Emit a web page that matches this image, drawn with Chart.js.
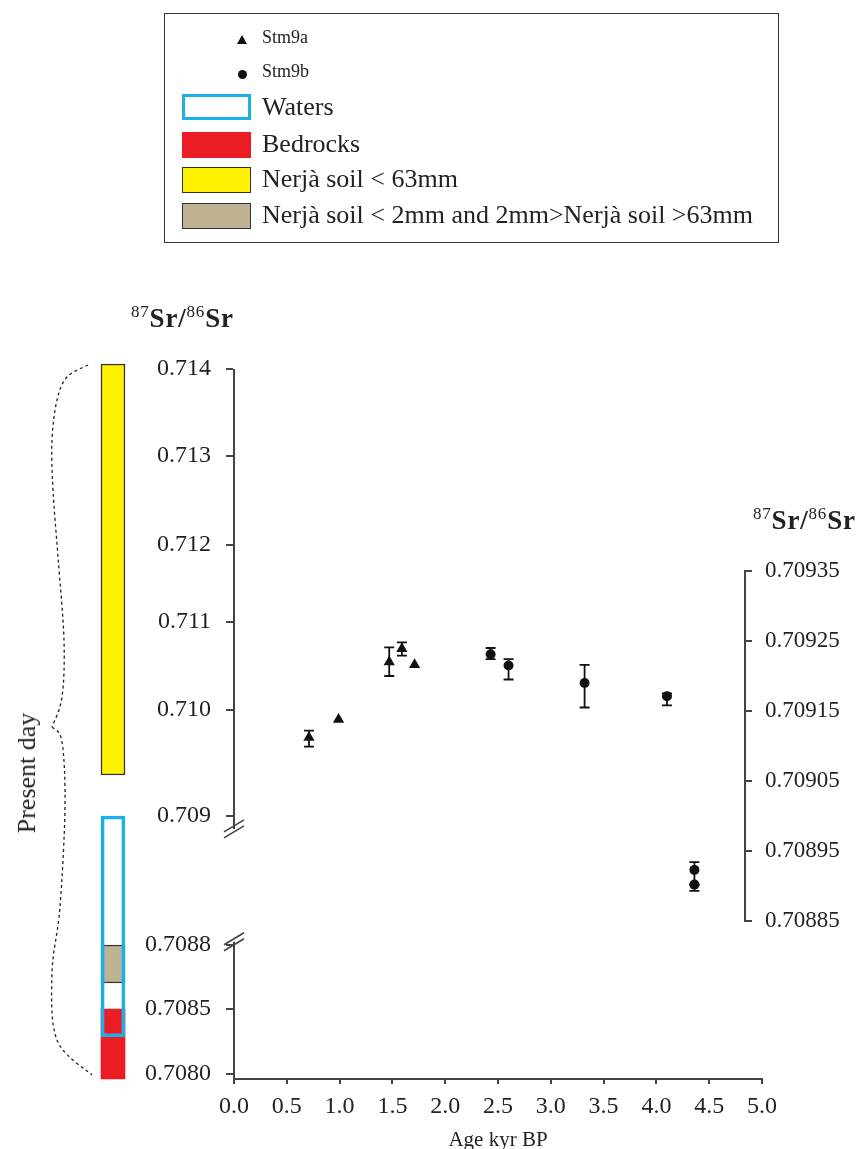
<!DOCTYPE html>
<html>
<head>
<meta charset="utf-8">
<title>87Sr/86Sr vs age</title>
<script src="https://cdn.jsdelivr.net/npm/chart.js"></script>
<style>
    body { margin: 0; background: #fff; overflow: hidden; font-family: "Liberation Serif", "Times New Roman", serif; color: #222; }
    #wrap { position: relative; width: 862px; height: 1149px; overflow: hidden; }
    canvas { position: absolute; left: 0; top: 0; }
    #legend { position: absolute; left: 164px; top: 13px; width: 615px; height: 230px; border: 1.5px solid #333; box-sizing: border-box; }
    .sw { position: absolute; left: 17px; width: 69px; height: 26px; box-sizing: border-box; }
    .lbl { position: absolute; left: 97px; font-size: 26px; line-height: 26px; white-space: nowrap; }
    .small { font-size: 18px; line-height: 18px; }
    .tri { position: absolute; width: 0; height: 0; border-left: 5px solid transparent; border-right: 5px solid transparent; border-bottom: 9px solid #111; }
    .dot { position: absolute; width: 9px; height: 9px; border-radius: 50%; background: #111; }
    .ttl { position: absolute; font-size: 27px; font-weight: bold; line-height: 1; white-space: nowrap; letter-spacing: 0.8px; }
    .ttl .sup { font-size: 17px; font-weight: normal; position: relative; top: -10px; }
    #present { position: absolute; left: 27px; top: 773px; font-size: 26px; white-space: nowrap; transform: translate(-50%, -50%) rotate(-90deg); }
</style>
</head>
<body>
<div id="wrap">
    <canvas id="mainChart" width="862" height="1156"></canvas>
    <canvas id="pointChart" width="862" height="1156"></canvas>

    <div id="legend">
        <div class="tri" style="left:72px; top:21px;"></div>
        <div class="lbl small" style="left:97px; top:14px;">Stm9a</div>
        <div class="dot" style="left:73px; top:56px;"></div>
        <div class="lbl small" style="left:97px; top:48px;">Stm9b</div>

        <div class="sw" style="top:80px; border:3px solid #1cb0e8;"></div>
        <div class="lbl" style="top:80px;">Waters</div>
        <div class="sw" style="top:118px; background:#ec1c24;"></div>
        <div class="lbl" style="top:117px;">Bedrocks</div>
        <div class="sw" style="top:153px; background:#fff200; border:1.5px solid #333;"></div>
        <div class="lbl" style="top:152px;">Nerjà soil &lt; 63mm</div>
        <div class="sw" style="top:189px; background:#bfb293; border:1.5px solid #333;"></div>
        <div class="lbl" style="top:188px;">Nerjà soil &lt; 2mm and 2mm&gt;Nerjà soil &gt;63mm</div>
    </div>

    <div class="ttl" style="left:131px; top:305px;"><span class="sup">87</span>Sr/<span class="sup">86</span>Sr</div>
    <div class="ttl" style="left:753px; top:507px;"><span class="sup">87</span>Sr/<span class="sup">86</span>Sr</div>
    <div id="present">Present day</div>
</div>

<script>
    // --- data ---
    const xTickLabels = ['0.0', '0.5', '1.0', '1.5', '2.0', '2.5', '3.0', '3.5', '4.0', '4.5', '5.0'];

    const leftTickValues = [0.7080, 0.7085, 0.7088, 0.709, 0.710, 0.711, 0.712, 0.713, 0.714];
    const leftTickLabels = ['0.7080', '0.7085', '0.7088', '0.709', '0.710', '0.711', '0.712', '0.713', '0.714'];

    const rightTickLabels = ['0.70885', '0.70895', '0.70905', '0.70915', '0.70925', '0.70935'];

    // present day ranges (left axis)
    const stripNames = ['Waters', 'Nerjà soil < 2mm and 2mm>Nerjà soil >63mm', 'Bedrocks', 'Nerjà soil < 63mm'];
    const stripLow   = [0.708285, 0.708622, 0.707962, 0.709387];
    const stripHigh  = [0.709000, 0.708800, 0.708499, 0.714057];

    // Stm9a / Stm9b (right axis)
    const stm9aAge = [0.71, 0.99, 1.47, 1.59, 1.71];
    const stm9aSr  = [0.709112, 0.709138, 0.709220, 0.709239, 0.709216];
    const stm9aLo  = [0.709099, null, 0.709200, 0.709229, null];
    const stm9aHi  = [0.709122, null, 0.709241, 0.709248, null];

    const stm9bAge = [2.43, 2.60, 3.32, 4.10, 4.36, 4.36];
    const stm9bSr  = [0.709231, 0.709215, 0.709190, 0.709171, 0.708923, 0.708902];
    const stm9bLo  = [0.709224, 0.709195, 0.709155, 0.709158, 0.708902, 0.708893];
    const stm9bHi  = [0.709240, 0.709224, 0.709216, 0.709175, 0.708934, 0.708902];

    // --- layout ---
    const FONT = "'Liberation Serif', 'Times New Roman', serif";
    const INK = '#222';
    const AXIS = '#444';
    const AREA_TOP = 369, AREA_BOTTOM = 1079, AREA_LEFT = 234, AREA_RIGHT = 762;
    const RIGHT_AXIS_X = 745, RIGHT_TOP = 571, RIGHT_BOTTOM = 921;
    const LEFT_TICK_Y = [1074, 1009, 945, 816, 710, 622, 545, 456, 369];
    const STRIP_X = (113 - AREA_LEFT) / ((AREA_RIGHT - AREA_LEFT) / 5);

    Chart.defaults.font.family = FONT;
    Chart.defaults.color = INK;

    // linear scale with piecewise mapping (hand-drawn tick spacing and an axis break)
    class BrokenScale extends Chart.LinearScale {
        determineDataLimits() {
            const a = this.options.anchors;
            this.min = a[0][0];
            this.max = a[a.length - 1][0];
        }
        buildTicks() {
            return this.options.tickValues.map(v => ({ value: v }));
        }
        _frac(value) {
            const a = this.options.anchors;
            let i = 0;
            while (i < a.length - 2 && value > a[i + 1][0]) i++;
            const v0 = a[i][0], f0 = a[i][1], v1 = a[i + 1][0], f1 = a[i + 1][1];
            return f0 + (value - v0) * (f1 - f0) / (v1 - v0);
        }
        getPixelForValue(value) {
            return this.top + this._frac(value) * (this.bottom - this.top);
        }
        getValueForPixel(pixel) {
            const a = this.options.anchors;
            const f = (pixel - this.top) / (this.bottom - this.top);
            for (let i = 0; i < a.length - 1; i++) {
                if ((f <= a[i][1] && f >= a[i + 1][1]) || i === a.length - 2) {
                    return a[i][0] + (f - a[i][1]) * (a[i + 1][0] - a[i][0]) / (a[i + 1][1] - a[i][1]);
                }
            }
        }
        drawBorder() {
            const ctx = this.ctx;
            const x = this.right;
            ctx.save();
            ctx.lineWidth = 2;
            ctx.strokeStyle = AXIS;
            this.options.borderSegments.forEach(seg => {
                ctx.beginPath();
                ctx.moveTo(x, this.getPixelForValue(seg[0]));
                ctx.lineTo(x, this.getPixelForValue(seg[1]));
                ctx.stroke();
            });
            ctx.lineWidth = 1.6;
            this.options.breakMarks.forEach(v => {
                const y = this.getPixelForValue(v);
                [-3, 3].forEach(d => {
                    ctx.beginPath();
                    ctx.moveTo(x - 10, y + 6 + d);
                    ctx.lineTo(x + 10, y - 6 + d);
                    ctx.stroke();
                });
            });
            ctx.restore();
        }
    }
    BrokenScale.id = 'broken';
    BrokenScale.defaults = Chart.LinearScale.defaults;
    Chart.register(BrokenScale);

    // dashed brace in front of the present day column
    const bracePlugin = {
        id: 'brace',
        afterDraw(chart) {
            const ctx = chart.ctx;
            const upper = [[88, 365], [67, 377], [57, 400], [52, 440], [53, 490], [58, 557], [64, 640], [62, 697], [52, 727]];
            const lower = [[52, 727], [62, 742], [65, 807], [60, 907], [52, 973], [57, 1040], [92, 1075]];
            const curve = pts => {
                ctx.moveTo(pts[0][0], pts[0][1]);
                for (let i = 0; i < pts.length - 1; i++) {
                    const p0 = pts[Math.max(i - 1, 0)], p1 = pts[i], p2 = pts[i + 1], p3 = pts[Math.min(i + 2, pts.length - 1)];
                    ctx.bezierCurveTo(p1[0] + (p2[0] - p0[0]) / 6, p1[1] + (p2[1] - p0[1]) / 6,
                                      p2[0] - (p3[0] - p1[0]) / 6, p2[1] - (p3[1] - p1[1]) / 6, p2[0], p2[1]);
                }
            };
            ctx.save();
            ctx.strokeStyle = '#222';
            ctx.lineWidth = 1.3;
            ctx.setLineDash([3, 3]);
            ctx.beginPath();
            curve(upper);
            curve(lower);
            ctx.stroke();
            ctx.restore();
        }
    };

    const stripColors = ['rgba(0,0,0,0)', '#bfb293', '#ec1c24', '#fff200'];
    const stripBorders = ['#1cb0e8', '#333', '#ec1c24', '#333'];
    const stripBorderWidths = [3, 1.5, 0, 1.5];

    new Chart(document.getElementById('mainChart'), {
        type: 'scatter',
        data: {
            datasets: stripNames.map((name, i) => ({
                type: 'bar',
                label: name,
                data: [{ x: STRIP_X, y: [stripLow[i], stripHigh[i]] }],
                backgroundColor: stripColors[i],
                borderColor: stripBorders[i],
                borderWidth: stripBorderWidths[i],
                borderSkipped: false,
                grouped: false,
                barThickness: 24,
                maxBarThickness: 24,
                clip: false,
                order: i === 0 ? 0 : 1
            }))
        },
        options: {
            responsive: false,
            animation: false,
            devicePixelRatio: 1,
            layout: { padding: { top: AREA_TOP, right: 862 - AREA_RIGHT, left: 0, bottom: 0 } },
            plugins: { legend: { display: false }, tooltip: { enabled: false } },
            scales: {
                x: {
                    type: 'linear',
                    min: 0,
                    max: 5,
                    offset: false,
                    afterFit: s => { s.height = 1156 - AREA_BOTTOM; },
                    ticks: {
                        stepSize: 0.5,
                        autoSkip: false,
                        maxRotation: 0,
                        padding: 8,
                        font: { size: 24 },
                        callback: (v, i) => xTickLabels[i]
                    },
                    grid: { offset: false, drawOnChartArea: false, tickLength: 5, color: AXIS, lineWidth: 2 },
                    border: { color: AXIS, width: 2 },
                    title: { display: true, text: 'Age kyr BP', font: { size: 21 }, padding: { top: 0, bottom: 3 } }
                },
                y: {
                    type: 'broken',
                    position: 'left',
                    anchors: leftTickValues.map((v, i) => [v, (LEFT_TICK_Y[i] - AREA_TOP) / (AREA_BOTTOM - AREA_TOP)]),
                    tickValues: leftTickValues,
                    borderSegments: [[0.70796, 0.708805], [0.70898, 0.714]],
                    breakMarks: [0.70898, 0.708805],
                    afterFit: s => { s.width = AREA_LEFT; },
                    ticks: {
                        autoSkip: false,
                        padding: 15,
                        font: { size: 24 },
                        callback: (v, i) => leftTickLabels[i]
                    },
                    grid: { drawOnChartArea: false, tickLength: 8, color: AXIS, lineWidth: 2 },
                    border: { color: AXIS, width: 2 }
                }
            }
        },
        plugins: [bracePlugin]
    });

    // error bars for the cave samples
    const errorSeries = [
        { age: stm9aAge, lo: stm9aLo, hi: stm9aHi },
        { age: stm9bAge, lo: stm9bLo, hi: stm9bHi }
    ];
    const errorBarPlugin = {
        id: 'errorBars',
        beforeDatasetsDraw(chart) {
            const { ctx, scales: { x, y } } = chart;
            ctx.save();
            ctx.strokeStyle = '#111';
            ctx.lineWidth = 1.8;
            errorSeries.forEach(s => s.age.forEach((a, i) => {
                if (s.lo[i] == null) return;
                const px = x.getPixelForValue(a);
                const y0 = y.getPixelForValue(s.lo[i]);
                const y1 = y.getPixelForValue(s.hi[i]);
                ctx.beginPath();
                ctx.moveTo(px, y0); ctx.lineTo(px, y1);
                ctx.moveTo(px - 5, y0); ctx.lineTo(px + 5, y0);
                ctx.moveTo(px - 5, y1); ctx.lineTo(px + 5, y1);
                ctx.stroke();
            }));
            ctx.restore();
        }
    };

    new Chart(document.getElementById('pointChart'), {
        type: 'scatter',
        data: {
            datasets: [
                {
                    label: 'Stm9a',
                    data: stm9aAge.map((a, i) => ({ x: a, y: stm9aSr[i] })),
                    pointStyle: 'triangle',
                    pointRadius: 6.5,
                    backgroundColor: '#111',
                    borderColor: '#111',
                    borderWidth: 0,
                    clip: false
                },
                {
                    label: 'Stm9b',
                    data: stm9bAge.map((a, i) => ({ x: a, y: stm9bSr[i] })),
                    pointStyle: 'circle',
                    pointRadius: 5,
                    backgroundColor: '#111',
                    borderColor: '#111',
                    borderWidth: 0,
                    clip: false
                }
            ]
        },
        options: {
            responsive: false,
            animation: false,
            devicePixelRatio: 1,
            layout: { padding: { top: RIGHT_TOP, bottom: 1156 - RIGHT_BOTTOM, left: AREA_LEFT, right: 0 } },
            plugins: { legend: { display: false }, tooltip: { enabled: false } },
            scales: {
                x: {
                    type: 'linear',
                    display: false,
                    min: 0,
                    max: 5 * (RIGHT_AXIS_X - AREA_LEFT) / (AREA_RIGHT - AREA_LEFT)
                },
                y: {
                    type: 'linear',
                    position: 'right',
                    min: 0.70885,
                    max: 0.70935,
                    afterFit: s => { s.width = 862 - RIGHT_AXIS_X; },
                    ticks: {
                        stepSize: 0.0001,
                        autoSkip: false,
                        padding: 13,
                        font: { size: 23 },
                        callback: (v, i) => rightTickLabels[i]
                    },
                    grid: { drawOnChartArea: false, tickLength: 7, color: AXIS, lineWidth: 2 },
                    border: { color: AXIS, width: 2 }
                }
            }
        },
        plugins: [errorBarPlugin]
    });
</script>
</body>
</html>
